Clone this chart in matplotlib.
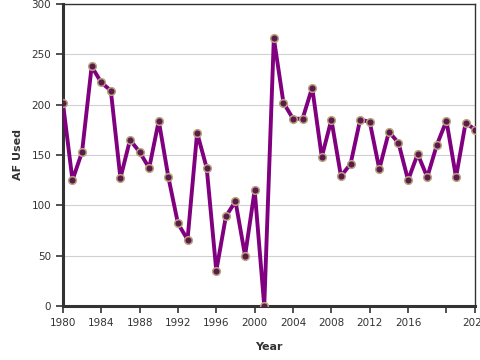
import matplotlib
matplotlib.use('Agg')
import matplotlib.pyplot as plt

# Yearly values
years = list(range(1980, 2024))
af_used = [202, 125, 153, 238, 222, 214, 127, 165, 153, 137,
           184, 128, 82, 66, 172, 137, 35, 89, 104, 50,
           115, 0, 266, 202, 186, 186, 217, 148, 185, 129,
           141, 185, 183, 136, 173, 162, 125, 151, 128, 160,
           184, 128, 182, 175]

x_ticks = [1980, 1984, 1988, 1992, 1996, 2000, 2004, 2008, 2012, 2016, 2020, 2023]
x_labels = ['1980', '1984', '1988', '1992', '1996', '2000', '2004', '2008',
            '2012', '2016', '', '2023']
y_ticks = [0, 50, 100, 150, 200, 250, 300]

fig = plt.figure(figsize=(4.8, 3.6), dpi=100)
ax = fig.add_axes([0.131, 0.15, 0.859, 0.839])

ax.plot(years, af_used, color='#800080', linewidth=2.8, zorder=3,
        marker='o', markersize=5.5, markerfacecolor='#5c1a4c',
        markeredgecolor='#b8a47e', markeredgewidth=1.1)

ax.set_xlim(1980, 2023)
ax.set_ylim(0, 300)
ax.set_xticks(x_ticks)
ax.set_xticklabels(x_labels)
ax.set_yticks(y_ticks)
ax.grid(axis='y', color='#d0d0d0', linewidth=0.8)
ax.set_axisbelow(True)

for side in ['left', 'bottom']:
    ax.spines[side].set_linewidth(2.2)
    ax.spines[side].set_color('#333333')
for side in ['top', 'right']:
    ax.spines[side].set_linewidth(1.0)
    ax.spines[side].set_color('#333333')

ax.tick_params(labelsize=7.5, colors='#333333', length=5, width=1.2)
ax.set_xlabel('Year', fontsize=8, fontweight='bold', color='#333333', labelpad=10)
ax.set_ylabel('AF Used', fontsize=8, fontweight='bold', color='#333333', labelpad=6)

fig.savefig('out.png', dpi=100)
